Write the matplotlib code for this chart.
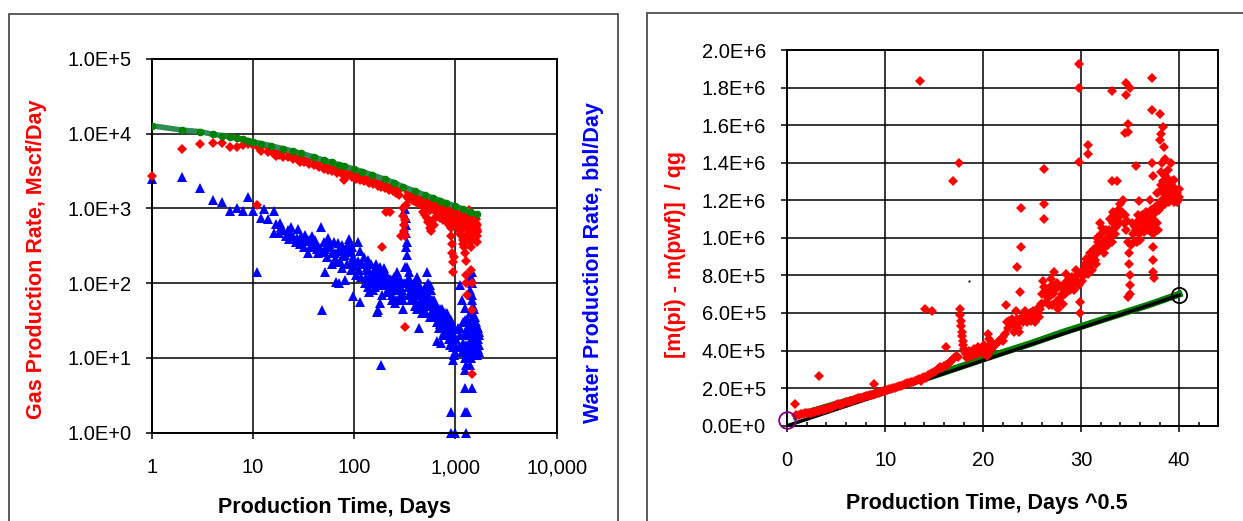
import numpy as np
import matplotlib.pyplot as plt
from matplotlib.patches import Rectangle
from matplotlib.ticker import FixedLocator, FuncFormatter, NullLocator, MultipleLocator

plt.rcParams['font.family'] = ['Liberation Sans', 'DejaVu Sans']

# ---------------- left chart: rates vs production time (log-log) ----------------
# gas rate observations (days, Mscf/day)
gas_obs = [
    (1, 2700), (2, 6200), (3, 7200), (4, 7400), (5, 7400), (6, 6650), (7, 6600), (8, 7050), (9, 7200), (10, 7000),
    (11, 1100), (11, 6900), (17, 5050), (29, 4100), (79, 2400), (190, 300), (205, 900), (225, 900), (318, 26),
    # upper edge of the band
    (12, 6850), (14, 6500), (16, 6200), (18, 5950), (20, 5800), (23, 5500), (26, 5250), (30, 5050), (35, 4750),
    (40, 4500), (45, 4250), (50, 4100), (55, 3950), (60, 3800), (65, 3700), (70, 3600), (75, 3500), (80, 3400),
    (90, 3250), (100, 3100), (110, 3000), (120, 2900), (130, 2800), (140, 2700), (150, 2600), (160, 2550),
    (170, 2450), (180, 2400), (190, 2350), (200, 2280), (215, 2200), (230, 2120), (245, 2050), (260, 2000),
    (275, 1950), (290, 1850), (340, 1650), (360, 1600), (380, 1580), (400, 1550), (420, 1500), (450, 1450),
    (480, 1400), (510, 1350), (540, 1320), (570, 1290), (600, 1260), (640, 1220), (680, 1180), (720, 1150),
    (760, 1100), (800, 1080), (850, 1040), (900, 1000), (950, 980), (1000, 960), (1060, 930), (1120, 900),
    (1180, 870), (1240, 850), (1300, 830), (1360, 800), (1420, 780), (1480, 760), (1540, 740), (1600, 720),
    # middle of the band
    (110, 2850), (130, 2650), (160, 2350), (190, 2150), (230, 1950), (270, 1800), (350, 1500), (380, 1450),
    (420, 1350), (460, 1300), (500, 1250), (550, 1180), (600, 1130), (650, 1080), (700, 1040), (750, 1000),
    (800, 960), (850, 930), (900, 900), (950, 860), (1000, 850), (1050, 820), (1100, 800), (1150, 780),
    (1200, 760), (1250, 740), (1300, 720), (1350, 700), (1400, 680), (1450, 660), (1500, 650), (1550, 640),
    (1600, 630), (1650, 600),
    # lower edge of the band
    (12, 5900), (14, 5600), (16, 5300), (18, 5100), (20, 4900), (22, 4800), (25, 4600), (28, 4400), (32, 4150),
    (36, 3900), (40, 3750), (45, 3550), (50, 3400), (55, 3250), (60, 3150), (67, 3000), (75, 2850), (85, 2700),
    (95, 2600), (105, 2500), (115, 2400), (125, 2350), (140, 2200), (155, 2100), (170, 2000), (185, 1900),
    (200, 1850), (220, 1750), (240, 1700), (260, 1600), (280, 1500), (350, 1350), (370, 1300), (390, 1250),
    (410, 1200), (440, 1150), (470, 1100), (500, 1050), (530, 1000), (560, 950), (600, 980), (640, 900),
    (680, 920), (720, 850), (760, 880), (800, 800), (850, 820), (900, 760), (950, 700), (1000, 740),
    (1050, 680), (1100, 700), (1150, 640), (1200, 660), (1250, 600), (1300, 620), (1350, 560), (1400, 580),
    (1450, 520), (1500, 560), (1550, 500), (1600, 540),
    # drops and scatter at late time
    (290, 420), (300, 1000), (305, 800), (310, 600), (312, 500), (315, 420), (320, 700), (325, 1100), (330, 1400),
    (480, 900), (500, 820), (520, 750), (540, 650), (560, 550), (580, 500), (600, 700), (620, 600),
    (650, 800), (700, 750), (750, 700), (820, 650), (860, 600), (1000, 600), (1050, 550), (1120, 450),
    (880, 650), (900, 550), (910, 420), (920, 330), (930, 250), (940, 190), (950, 140), (960, 220),
    (1100, 500), (1150, 420), (1180, 380), (1200, 330), (1220, 300), (1250, 250), (1260, 200), (1270, 130),
    (1280, 100), (1290, 70), (1320, 450), (1380, 400), (1400, 350), (1420, 300), (1440, 150), (1450, 100),
    (1460, 44), (1470, 6), (1480, 450), (1520, 420), (1560, 380), (1600, 430), (1620, 480), (1640, 500),
    (1650, 520), (1250, 900), (1300, 900), (1350, 950), (1400, 850), (1180, 550), (1350, 480), (1380, 520),
    (1500, 470), (1580, 420), (1620, 350), (1650, 420),
]

# water rate observations (days, bbl/day)
water_obs = [
    (1, 2470), (2, 2600), (3, 1880), (4, 1290), (5, 1200), (6, 930), (7, 1000), (8, 930), (9, 1400), (10, 930),
    (11, 142), (12, 735), (13, 980), (14, 720), (16, 930), (16, 463), (18, 463), (18.5, 641), (20, 520), (22, 510),
    (22.5, 385), (25, 420), (26.5, 350), (28, 525), (30, 420), (34, 365), (36, 380), (39, 318), (46, 295), (47, 560),
    (48, 44), (52, 290), (52, 140), (55, 400), (63, 350), (66, 104), (70, 265), (70, 100), (76, 320), (82, 240),
    (82, 111), (89, 385), (98, 220), (98, 67), (108, 350), (115, 265), (115, 56), (120, 180), (130, 120), (133, 166),
    (136, 204), (140, 77), (142, 118), (150, 100), (154, 140), (160, 150), (166, 118), (167, 41), (170, 44), (175, 120),
    (180, 166), (180, 55), (186, 8), (190, 95), (200, 140), (200, 100), (210, 75), (215, 80), (226, 115), (235, 59),
    (240, 85), (245, 95), (250, 120), (254, 54), (260, 60), (265, 140), (276, 80), (280, 90), (285, 115), (290, 70),
    (300, 59), (300, 45), (310, 100), (320, 166), (320, 965), (322, 740), (322, 463), (325, 600), (328, 300),
    (330, 350), (330, 240), (335, 166), (340, 115), (350, 140), (360, 80), (370, 95), (380, 70), (400, 59),
    (420, 120), (437, 25), (440, 95), (460, 60), (482, 47), (500, 80), (520, 140), (540, 70), (560, 95), (590, 59),
    (610, 40), (630, 55), (660, 47), (660, 17), (680, 30), (704, 36), (720, 16), (740, 45), (760, 27), (760, 20),
    (790, 35), (820, 40), (850, 25), (890, 21), (900, 30), (910, 32), (930, 17), (950, 20), (950, 9.4),
    (900, 1.9), (910, 1), (990, 1), (980, 15), (980, 12), (1000, 15), (1050, 25), (1100, 95), (1100, 20),
    (1150, 59), (1150, 12), (1200, 30), (1220, 20), (1230, 47), (1240, 32), (1240, 10), (1240, 6.8), (1240, 3.9),
    (1230, 1.9), (1260, 1), (1260, 15), (1290, 32), (1300, 25), (1310, 1.9), (1320, 12), (1350, 20), (1380, 115),
    (1380, 8), (1400, 80), (1400, 15), (1420, 25), (1440, 120), (1440, 10), (1450, 100), (1450, 60), (1450, 47),
    (1450, 3.9), (1460, 18), (1480, 30), (1500, 36), (1500, 12), (1520, 22), (1540, 16), (1550, 21), (1560, 28),
    (1580, 14), (1600, 20), (1620, 11), (1630, 27), (1640, 24), (1650, 17), (1660, 13), (1680, 18), (1700, 22),
    # denser part of the cloud
    (17, 620), (19, 560), (21, 430), (23, 470), (24, 560), (27, 400), (29, 330), (31, 380), (33, 440), (37, 300),
    (41, 380), (43, 290), (49, 260), (57, 330), (61, 250), (64, 210), (69, 340), (73, 200), (80, 280), (86, 330),
    (93, 260), (96, 190), (32, 300), (35, 250), (38, 420), (42, 330), (44, 250), (50, 350), (54, 220), (58, 300),
    (60, 180), (65, 250), (68, 190), (72, 300), (75, 160), (78, 230), (85, 180), (88, 280), (92, 150), (95, 300),
    (102, 170), (105, 130), (110, 200), (112, 150), (118, 120), (125, 220), (128, 100), (135, 150), (138, 90),
    (145, 180), (148, 130), (152, 80), (158, 110), (162, 90), (165, 180), (172, 140), (178, 100), (183, 130),
    (188, 70), (193, 120), (196, 160), (205, 110), (208, 130), (218, 100), (222, 90), (230, 110), (238, 70),
    (248, 100), (255, 80), (262, 110), (270, 100), (272, 60), (285, 90), (295, 80), (305, 70), (340, 90),
    (345, 70), (355, 110), (365, 60), (375, 80), (390, 100), (395, 50), (410, 80), (415, 45), (425, 70),
    (430, 100), (450, 50), (455, 80), (470, 40), (475, 70), (490, 55), (495, 90), (510, 60), (515, 40),
    (530, 100), (535, 50), (550, 65), (555, 35), (570, 50), (575, 80), (580, 35), (600, 45), (620, 60),
    (640, 35), (650, 30), (670, 40), (690, 25), (700, 45), (710, 28), (730, 30), (750, 35), (770, 22),
    (780, 40), (800, 25), (810, 30), (830, 20), (840, 35), (860, 18), (870, 30), (880, 15), (920, 25),
    (940, 14), (960, 24), (970, 11), (1020, 18), (1080, 14), (1120, 25), (1180, 16), (1210, 12), (1270, 20),
    (1280, 8), (1330, 30), (1340, 10), (1360, 14), (1370, 22), (1390, 40), (1410, 30), (1430, 18), (1470, 40),
    (1490, 20), (1510, 45), (1530, 28), (1570, 35), (1590, 25), (1610, 30), (1670, 25), (1690, 12), (1700, 15),
    (1710, 20), (1460, 70), (1470, 140), (1480, 50),
]

# decline-curve fit for gas (days, Mscf/day)
gas_fit = [
    (1, 12700), (2, 11100), (3, 10600), (4, 9770), (5, 9340), (6, 8980), (7, 8710), (8, 8360), (9, 8050),
    (10, 7770), (12, 7350), (15, 6850), (20, 6250), (25, 5800), (30, 5430), (40, 4850), (50, 4400), (60, 4100),
    (70, 3850), (80, 3650), (100, 3350), (120, 3100), (150, 2800), (200, 2450), (250, 2200), (300, 1950),
    (400, 1700), (500, 1500), (600, 1380), (700, 1270), (800, 1190), (1000, 1070), (1200, 970), (1400, 900),
    (1620, 830),
]

# ---------------- right chart: normalised pressure vs sqrt(time) ----------------
# (days^0.5, value in units of 1e5)
rnp_obs = [
    (0.9, 0.55), (1.2, 0.58), (1.4, 0.62), (1.6, 0.6), (1.8, 0.65), (2.0, 0.68), (2.2, 0.66), (2.4, 0.7),
    (2.6, 0.72), (2.8, 0.75), (3.0, 0.76), (3.2, 0.8), (3.4, 0.82), (3.6, 0.85), (3.8, 0.88), (4.0, 0.9),
    (4.2, 0.93), (4.4, 0.96), (4.6, 1.0), (4.8, 1.03), (5.0, 1.1), (5.2, 1.15), (5.4, 1.12), (5.6, 1.18),
    (5.8, 1.2), (6.0, 1.25), (6.2, 1.28), (6.4, 1.3), (6.6, 1.34), (6.8, 1.38), (7.0, 1.42), (7.2, 1.45),
    (7.4, 1.48), (7.6, 1.5), (7.8, 1.55), (8.0, 1.57), (8.2, 1.6), (8.4, 1.62), (8.6, 1.65), (8.8, 1.68),
    (9.0, 1.7), (9.2, 1.73), (9.4, 1.76), (9.6, 1.8), (9.8, 1.83), (10.0, 1.86), (10.2, 1.9), (10.4, 1.93),
    (10.6, 1.96), (10.8, 2.0), (11.0, 2.02), (11.2, 2.06), (11.4, 2.1), (11.6, 2.12), (11.8, 2.16), (12.0, 2.2),
    (12.2, 2.25), (12.4, 2.28), (12.6, 2.3), (12.8, 2.35), (13.0, 2.4), (13.2, 2.45), (13.4, 2.5), (13.6, 2.4),
    (13.8, 2.55), (14.0, 2.6), (14.2, 2.55), (14.4, 2.7), (14.6, 2.75), (14.8, 2.8), (15.0, 2.85), (15.2, 2.9),
    (15.4, 3.0), (15.6, 3.1), (15.8, 3.05), (16.0, 3.2), (16.2, 3.25), (16.4, 3.3), (16.6, 3.4), (16.8, 3.5),
    (17.0, 3.6), (17.2, 3.7), (17.4, 3.65), (17.6, 6.2), (17.6, 5.9), (17.7, 5.6), (17.7, 5.3), (17.8, 5.0),
    (17.8, 4.8), (17.9, 4.5), (17.9, 4.3), (18.0, 4.1), (18.2, 3.8), (18.4, 3.75), (18.6, 3.7), (18.8, 3.9),
    (19.0, 3.8), (19.2, 3.9), (19.4, 4.0), (19.6, 3.85), (19.8, 4.1), (20.0, 4.2), (20.2, 3.9), (20.4, 3.7),
    (20.6, 4.0), (20.8, 4.1), (20.6, 4.6), (21.0, 4.2), (21.2, 4.3), (21.4, 4.4), (21.6, 4.5), (21.8, 4.6),
    (22.0, 4.7), (22.2, 4.9), (22.0, 4.5), (22.4, 5.5), (22.6, 5.6), (22.8, 5.4), (23.0, 5.5), (23.2, 5.3),
    (23.4, 5.4), (23.6, 5.2), (23.8, 5.6), (24.0, 5.8), (24.2, 5.9), (24.4, 5.7), (24.6, 5.8), (24.8, 6.0),
    (25.0, 5.8), (25.2, 5.9), (25.4, 5.7), (25.6, 6.0), (25.8, 6.2), (26.0, 6.5), (26.0, 7.0), (26.1, 7.7),
    (26.2, 7.4), (26.4, 6.6), (26.6, 6.8), (26.8, 7.2), (27.0, 7.5), (27.2, 8.2), (27.0, 6.4), (27.4, 6.6),
    (27.6, 6.2), (27.8, 6.8), (28.0, 7.0), (28.2, 7.4), (28.4, 7.6), (28.5, 8.1), (28.6, 7.2), (28.8, 7.8),
    (29.0, 7.4), (29.2, 7.6), (29.4, 7.8), (29.6, 8.0), (29.8, 7.5), (29.9, 6.0), (29.9, 6.6), (30.0, 8.1),
    (30.2, 8.3), (30.4, 8.6), (30.6, 8.4), (30.8, 8.8), (31.0, 8.6), (31.2, 9.0), (31.4, 8.8), (31.6, 9.2),
    (31.6, 10.0), (31.8, 9.6), (31.9, 10.8), (32.0, 10.2), (32.0, 9.4), (32.2, 9.8), (32.4, 9.5), (32.6, 10.0),
    (32.8, 10.4), (33.0, 10.2), (33.2, 10.8), (33.3, 10.4), (33.4, 11.2), (33.6, 10.6), (33.8, 11.5),
    (34.0, 11.8), (34.2, 11.4), (34.4, 10.8), (34.6, 10.4), (34.8, 9.8), (34.9, 9.2), (34.9, 8.6), (35.0, 8.0),
    (35.0, 7.5), (35.0, 7.0), (35.1, 9.6), (35.3, 10.2), (35.5, 10.6), (35.7, 9.8), (35.85, 11.2), (35.9, 10.2),
    (36.1, 10.5), (36.3, 10.8), (36.5, 11.0), (36.7, 10.7), (36.9, 11.2), (37.1, 11.5), (37.3, 11.0),
    (37.35, 10.2), (37.35, 9.5), (37.35, 8.8), (37.35, 8.2), (37.4, 7.85), (37.5, 11.3), (37.7, 10.8),
    (37.7, 12.4), (37.35, 13.3), (37.9, 11.5), (38.0, 12.5), (38.1, 13.5), (38.2, 12.8), (38.3, 12.0),
    (38.4, 13.0), (38.5, 12.4), (38.6, 11.8), (38.7, 12.6), (38.8, 13.2), (38.9, 12.2), (39.0, 12.8),
    (39.1, 12.0), (39.2, 12.5), (39.3, 13.0), (39.4, 12.3), (39.5, 11.9), (39.6, 12.6), (39.7, 12.1),
    (39.8, 12.4), (39.9, 12.0), (40.0, 12.2),
    # thicker band at late time
    (18.1, 3.9), (18.3, 3.6), (18.5, 4.0), (18.7, 3.8), (18.9, 3.7), (19.1, 4.1), (19.3, 3.8), (19.5, 4.2),
    (19.7, 4.0), (19.9, 3.9), (20.1, 4.3), (20.3, 4.1), (20.5, 3.8), (20.7, 4.3), (20.9, 4.4), (20.5, 4.9),
    (22.5, 5.2), (22.9, 5.7), (23.1, 5.0), (23.5, 5.7), (23.7, 5.0), (24.1, 5.5), (24.3, 6.1), (24.5, 5.5),
    (24.9, 5.6), (25.1, 6.1), (25.3, 5.5), (25.5, 6.2), (25.7, 5.8), (25.9, 6.5), (26.3, 7.0), (26.5, 7.3),
    (26.7, 6.4), (26.9, 7.8), (27.1, 7.0), (27.3, 7.2), (27.5, 7.6), (27.7, 6.6), (27.9, 7.4), (28.1, 6.5),
    (28.3, 7.0), (28.7, 7.7), (28.9, 7.2), (29.1, 7.9), (29.3, 7.2), (29.5, 8.3), (29.7, 7.6), (30.1, 7.7),
    (30.3, 8.0), (30.5, 8.9), (30.7, 8.1), (30.9, 9.2), (31.1, 8.3), (31.3, 9.4), (31.5, 8.6), (31.7, 9.8),
    (32.1, 10.5), (32.3, 9.2), (32.5, 10.4), (32.7, 9.6), (32.9, 11.0), (33.1, 9.8), (33.3, 11.4), (33.5, 10.2),
    (33.7, 11.0), (33.9, 10.8), (34.1, 11.2), (34.3, 12.0), (34.5, 11.2), (34.7, 10.9), (35.2, 10.8),
    (35.4, 9.8), (35.6, 10.4), (35.8, 10.9), (36.0, 9.9), (36.2, 11.2), (36.4, 10.3), (36.6, 11.4), (36.8, 10.4),
    (37.0, 10.9), (37.2, 10.6), (37.6, 11.7), (37.8, 10.4), (38.0, 11.6), (38.2, 11.9), (38.4, 12.6),
    (38.6, 13.3), (38.8, 12.0), (39.0, 11.9), (39.2, 12.9), (39.4, 12.7), (39.6, 12.2), (39.8, 11.9),
    (40.0, 12.6), (38.9, 13.6), (39.5, 13.1), (38.3, 14.0), (38.6, 14.2),
    # scattered points
    (0.8, 1.16), (3.2, 2.66), (8.8, 2.2), (13.5, 18.35), (14.1, 6.21), (14.8, 6.1), (16.2, 4.2), (16.9, 13.03),
    (17.55, 14.0), (22.3, 6.43), (23.3, 6.08), (23.4, 8.47), (23.8, 7.1), (23.9, 9.5), (23.9, 11.6),
    (26.2, 13.67), (26.2, 11.8), (26.2, 11.0), (29.8, 19.26), (29.8, 18.0), (29.8, 14.06), (30.7, 14.95),
    (30.7, 14.47), (33.1, 17.8), (34.56, 18.23), (34.56, 17.6), (34.96, 18.0), (37.2, 18.5), (37.2, 16.8),
    (38.0, 16.6), (34.8, 16.07), (34.8, 15.66), (34.5, 15.6), (38.4, 15.9), (38.1, 15.55), (38.0, 15.2),
    (38.5, 14.85), (33.1, 13.0), (33.7, 13.0), (35.6, 13.83), (37.2, 14.0), (39.2, 14.0), (35.9, 11.98),
    (37.0, 12.0), (34.8, 6.87),
]

# fitted curve and straight line (days^0.5, value in units of 1e5)
rnp_fit = [
    (0.9, 0.5), (2, 0.68), (4, 1.0), (6, 1.3), (8, 1.6), (10, 1.9), (12, 2.2), (14, 2.5), (16, 2.85),
    (18, 3.2), (20, 3.55), (22, 3.9), (25, 4.4), (28, 4.95), (31, 5.45), (34, 5.95), (37, 6.45), (40, 7.0),
]
rnp_line = [(0, 0.0), (40, 6.95)]
start_point = (0, 0.3)
end_point = (40, 6.96)
stray_point = (18.5, 7.7)
UNIT = 1e5


def sci_label(v, pos=None):
    if v <= 0:
        return '0.0E+0'
    e = int(np.floor(np.log10(v) + 1e-9))
    return f'{v / 10 ** e:.1f}E+{e}'


W, H = 1243, 521
fig = plt.figure(figsize=(W / 100, H / 100), dpi=100)

# chart area frames
fig.add_artist(Rectangle((9 / W, -0.05), (618 - 9) / W, (H - 14) / H + 0.05,
                         transform=fig.transFigure, fill=False, ec='#404040', lw=1.2))
fig.add_artist(Rectangle((647 / W, -0.05), 1.0, (H - 12.7) / H + 0.05,
                         transform=fig.transFigure, fill=False, ec='#404040', lw=1.2))

# ---- left chart ----
ax1 = fig.add_axes([151.7 / W, 1 - 432.7 / H, (556.7 - 151.7) / W, (432.7 - 58.7) / H])
ax1.set_xscale('log')
ax1.set_yscale('log')

ft, fq = zip(*gas_fit)
ax1.plot(ft, fq, color='#2e8b57', lw=4, zorder=4, solid_capstyle='round')
ax1.plot(ft, fq, 'o', color='#008000', ms=5.5, mew=0, zorder=5)

wt, wq = zip(*water_obs)
ax1.plot(wt, wq, '^', color='#0000ff', ms=7, mew=0, zorder=2, clip_on=False)
gt, gq = zip(*gas_obs)
ax1.plot(gt, gq, 'D', color='#ff0000', ms=5.2, mew=0, zorder=3, clip_on=False)

ax1.set_xlim(1, 1e4)
ax1.set_ylim(1, 1e5)
ax1.xaxis.set_major_locator(FixedLocator([1, 10, 100, 1000, 10000]))
ax1.yaxis.set_major_locator(FixedLocator([1, 10, 100, 1e3, 1e4, 1e5]))
ax1.xaxis.set_minor_locator(NullLocator())
ax1.yaxis.set_minor_locator(NullLocator())
ax1.xaxis.set_major_formatter(FuncFormatter(lambda v, p: f'{v:,.0f}'))
ax1.yaxis.set_major_formatter(FuncFormatter(sci_label))

# ---- right chart ----
ax2 = fig.add_axes([787.3 / W, 1 - 425.7 / H, (1218.3 - 787.3) / W, (425.7 - 50) / H])
lx, ly = zip(*rnp_fit)
ax2.plot(lx, np.array(ly) * UNIT, color='#008000', lw=5, zorder=2)
bx, by = zip(*rnp_line)
ax2.plot(bx, np.array(by) * UNIT, color='black', lw=2.5, zorder=2)
sx, sy = zip(*rnp_obs)
ax2.plot(sx, np.array(sy) * UNIT, 'D', color='#ff0000', ms=5.2, mew=0, zorder=3, clip_on=False)
ax2.plot(stray_point[0], stray_point[1] * UNIT, 's', color='black', ms=1.4, mew=0, zorder=3)
ax2.plot(start_point[0], start_point[1] * UNIT, 'o', mfc='none', mec='#800080', ms=12, mew=1.3,
         zorder=4, clip_on=False)
ax2.plot(end_point[0], end_point[1] * UNIT, 'o', mfc='none', mec='black', ms=11, mew=1.3, zorder=4)

ax2.set_xlim(0, 44)
ax2.set_ylim(0, 2e6)
ax2.xaxis.set_major_locator(FixedLocator([0, 10, 20, 30, 40]))
ax2.xaxis.set_minor_locator(MultipleLocator(2))
ax2.yaxis.set_major_locator(MultipleLocator(2e5))
ax2.yaxis.set_major_formatter(FuncFormatter(sci_label))

for ax in (ax1, ax2):
    ax.set_axisbelow(True)
    ax.grid(True, which='major', color='black', lw=1.1)
    for sp in ax.spines.values():
        sp.set_linewidth(1.4)
        sp.set_color('black')
    ax.tick_params(which='major', direction='out', length=4.5, width=1.1, labelsize=14.5, colors='black')
    ax.tick_params(axis='x', pad=14)

ax1.tick_params(axis='y', pad=10)
ax2.tick_params(axis='y', pad=11)
ax2.tick_params(axis='x', which='minor', direction='in', length=3, width=1.1)

# axis titles
bold = dict(fontsize=15.5, fontweight='bold', ha='center', va='center')
fig.text(335 / W, 1 - 507 / H, 'Production Time, Days', color='black', **bold)
fig.text(37 / W, 1 - 259.5 / H, 'Gas Production Rate, Mscf/Day', color='#ff0000', rotation=90, **bold)
fig.text(593 / W, 1 - 262.5 / H, 'Water Production Rate, bbl/Day', color='#0000ff', rotation=90, **bold)
fig.text(675 / W, 1 - 254.5 / H, '[m(pi) - m(pwf)]  / qg', color='#ff0000', rotation=90, **bold)
fig.text(987 / W, 1 - 503 / H, 'Production Time, Days ^0.5', color='black', **bold)

fig.savefig('out.png', dpi=100)
